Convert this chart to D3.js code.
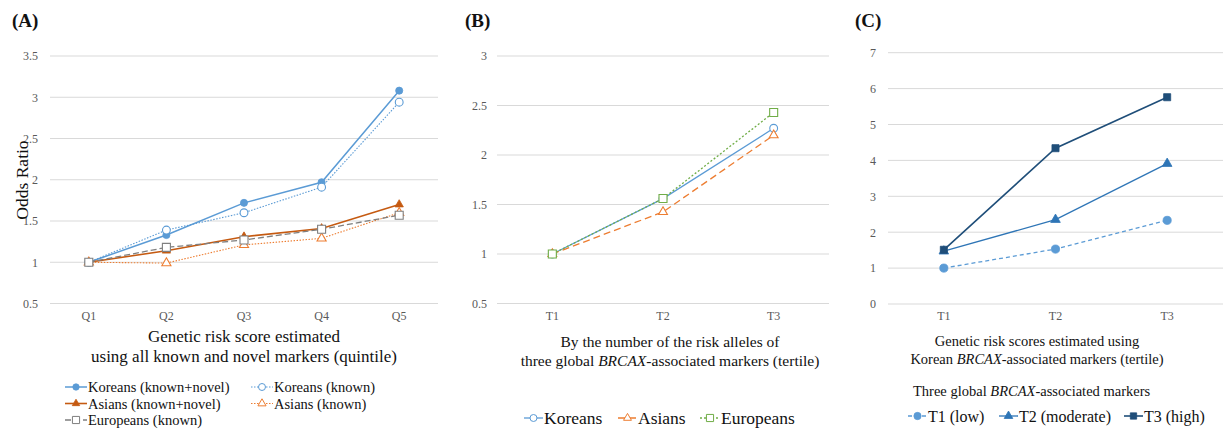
<!DOCTYPE html>
<html><head><meta charset="utf-8">
<script src="https://cdn.jsdelivr.net/npm/d3@7"></script>
<style>
body{margin:0;background:#fff;}
svg text{font-family:"Liberation Serif","Times New Roman",serif;}
</style></head>
<body><svg id="c" width="1226" height="431"></svg>
<script>
// ---------- DATA ----------
const catsA = ["Q1","Q2","Q3","Q4","Q5"];
const korKnownNovel = [1, 1.33, 1.72, 1.97, 3.08];
const korKnown      = [1, 1.39, 1.60, 1.91, 2.94];
const asiKnownNovel = [1, 1.14, 1.31, 1.41, 1.70];
const asiKnown      = [1, 0.99, 1.21, 1.29, 1.60];
const eurKnown      = [1, 1.18, 1.27, 1.40, 1.57];
const ticksA = [0.5, 1, 1.5, 2, 2.5, 3, 3.5];

const catsB = ["T1","T2","T3"];
const korB = [1, 1.56, 2.27];
const asiB = [1, 1.425, 2.20];
const eurB = [1, 1.56, 2.43];
const ticksB = [0.5, 1, 1.5, 2, 2.5, 3];

const catsC = ["T1","T2","T3"];
const cT1 = [1, 1.53, 2.33];
const cT2 = [1.47, 2.35, 3.91];
const cT3 = [1.51, 4.34, 5.76];
const ticksC = [0, 1, 2, 3, 4, 5, 6, 7];

const svg = d3.select("#c");

function symPath(type, size){ return d3.symbol().type(type).size(size)(); }

function panel(cfg){
  const g = svg.append("g");
  const x = d3.scaleBand().domain(cfg.cats).range([cfg.x0, cfg.x1]);
  const y = d3.scaleLinear().domain([cfg.ticks[0], cfg.ticks[cfg.ticks.length-1]]).range([cfg.y0, cfg.y1]);
  g.append("g").selectAll("line").data(cfg.ticks).join("line")
    .attr("x1", cfg.x0).attr("x2", cfg.x1)
    .attr("y1", d=>y(d)).attr("y2", d=>y(d))
    .attr("stroke", "#d9d9d9").attr("stroke-width", 1);
  const ya = d3.axisLeft(y).tickValues(cfg.ticks).tickSize(0).tickPadding(0).tickFormat(d=>String(d));
  const yg = g.append("g").attr("transform", `translate(${cfg.ylabX},0)`).call(ya);
  yg.select(".domain").remove();
  yg.selectAll("text").attr("font-family","Liberation Serif").attr("font-size",12).attr("fill","#595959");
  const xa = d3.axisBottom(x).tickSize(0).tickPadding(0);
  const xg = g.append("g").attr("transform", `translate(0,${cfg.xlabY})`).call(xa);
  xg.select(".domain").remove();
  xg.selectAll("text").attr("font-family","Liberation Serif").attr("font-size",12).attr("fill","#595959");
  cfg.series.forEach(s=>{
    const pts = s.values.map((v,i)=>[x(cfg.cats[i]) + x.bandwidth()/2, y(v)]);
    g.append("path").attr("d", d3.line()(pts)).attr("fill","none")
      .attr("stroke", s.color).attr("stroke-width", s.width||1.5)
      .attr("stroke-dasharray", s.dash||null);
    g.append("g").selectAll("path").data(pts).join("path")
      .attr("transform", d=>`translate(${d[0]},${d[1]})`)
      .attr("d", symPath(s.sym, s.size))
      .attr("fill", s.hollow ? "#fff" : s.color)
      .attr("stroke", s.color).attr("stroke-width", s.hollow?1.1:0.8);
  });
  return {g, x, y};
}

function legendItem(g, s, x, y, label, fs, len){
  len = len || 22;
  g.append("line").attr("x1", x).attr("x2", x+len).attr("y1", y).attr("y2", y)
    .attr("stroke", s.color).attr("stroke-width", s.width||1.5).attr("stroke-dasharray", s.dash||null);
  g.append("path").attr("transform", `translate(${x+len/2},${y})`)
    .attr("d", symPath(s.sym, s.size*0.8))
    .attr("fill", s.hollow ? "#fff" : s.color).attr("stroke", s.color).attr("stroke-width", s.hollow?1:0.8);
  g.append("text").attr("x", x+len+1).attr("y", y).attr("dy","0.35em")
    .attr("font-size", fs).attr("fill","#111").text(label);
}

function richText(g, x, y, parts, fs){
  const t = g.append("text").attr("x", x).attr("y", y).attr("text-anchor","middle")
    .attr("font-size", fs).attr("fill","#111");
  parts.forEach(p=>{ t.append("tspan").attr("font-style", p[1]?"italic":null).text(p[0]); });
  return t;
}

// ---------- PANEL A ----------
const sA = [
  {values:korKnownNovel, color:"#5b9bd5", sym:d3.symbolCircle, size:40, width:1.5},
  {values:korKnown, color:"#5b9bd5", sym:d3.symbolCircle, size:48, hollow:true, dash:"1.5,1.5", width:1.1},
  {values:asiKnownNovel, color:"#c55a11", sym:d3.symbolTriangle, size:30, width:1.6},
  {values:asiKnown, color:"#ed7d31", sym:d3.symbolTriangle, size:36, hollow:true, dash:"1.5,1.5", width:1.1},
  {values:eurKnown, color:"#7f7f7f", sym:d3.symbolSquare, size:64, hollow:true, dash:"6,3", width:1.3}
];
const A = panel({cats:catsA, ticks:ticksA, x0:50, x1:438, y0:303.5, y1:56, ylabX:38, xlabY:311, series:sA});
A.g.append("text").attr("x",12).attr("y",27).attr("font-size",19).attr("font-weight","bold").attr("fill","#111").text("(A)");
A.g.append("text").attr("transform","translate(28,180) rotate(-90)").attr("text-anchor","middle")
  .attr("font-size",17.5).attr("fill","#111").text("Odds Ratio");
richText(A.g, 244, 342, [["Genetic risk score estimated",false]], 17);
richText(A.g, 244, 362, [["using all known and novel markers (quintile)",false]], 17);
const lA = ["Koreans (known+novel)","Koreans (known)","Asians (known+novel)","Asians (known)","Europeans (known)"];
legendItem(A.g, sA[0], 65, 387, lA[0], 14.5);
legendItem(A.g, sA[1], 251, 387, lA[1], 14.5);
legendItem(A.g, sA[2], 65, 403.5, lA[2], 14.5);
legendItem(A.g, sA[3], 251, 403.5, lA[3], 14.5);
legendItem(A.g, sA[4], 65, 420, lA[4], 14.5);

// ---------- PANEL B ----------
const sB = [
  {values:korB, color:"#5b9bd5", sym:d3.symbolCircle, size:48, hollow:true, width:1.3},
  {values:asiB, color:"#ed7d31", sym:d3.symbolTriangle, size:34, hollow:true, dash:"7,4", width:1.3},
  {values:eurB, color:"#70ad47", sym:d3.symbolSquare, size:64, hollow:true, dash:"2,2", width:1.3}
];
const B = panel({cats:catsB, ticks:ticksB, x0:497, x1:829, y0:303.5, y1:56, ylabX:487, xlabY:311, series:sB});
B.g.append("text").attr("x",465).attr("y",27).attr("font-size",19).attr("font-weight","bold").attr("fill","#111").text("(B)");
richText(B.g, 670, 347, [["By the number of the risk alleles of",false]], 15.5);
richText(B.g, 670, 366, [["three global ",false],["BRCAX",true],["-associated markers (tertile)",false]], 15.5);
legendItem(B.g, sB[0], 524, 418, "Koreans", 17.5, 19);
legendItem(B.g, sB[1], 618, 418, "Asians", 17.5, 19);
legendItem(B.g, sB[2], 700, 418, "Europeans", 17.5, 20);

// ---------- PANEL C ----------
const sC = [
  {values:cT1, color:"#5b9bd5", sym:d3.symbolCircle, size:52, dash:"4,3", width:1.3},
  {values:cT2, color:"#2e75b6", sym:d3.symbolTriangle, size:40, width:1.3},
  {values:cT3, color:"#1f4e79", sym:d3.symbolSquare, size:50, width:1.6}
];
const C = panel({cats:catsC, ticks:ticksC, x0:888, x1:1223, y0:304, y1:52.7, ylabX:876, xlabY:311, series:sC});
C.g.append("text").attr("x",855).attr("y",27).attr("font-size",19).attr("font-weight","bold").attr("fill","#111").text("(C)");
richText(C.g, 1037, 346, [["Genetic risk scores estimated using",false]], 14.5);
richText(C.g, 1037, 364, [["Korean ",false],["BRCAX",true],["-associated markers (tertile)",false]], 14.5);
C.g.append("text").attr("x",913).attr("y",396).attr("font-size",14.5).attr("fill","#111")
  .selectAll("tspan").data([["Three global ",false],["BRCAX",true],["-associated markers",false]]).join("tspan")
  .attr("font-style",d=>d[1]?"italic":null).text(d=>d[0]);
legendItem(C.g, sC[0], 908, 416, "T1 (low)", 16, 19);
legendItem(C.g, sC[1], 999, 416, "T2 (moderate)", 16, 19);
legendItem(C.g, sC[2], 1124, 416, "T3 (high)", 16, 19);
</script></body></html>
